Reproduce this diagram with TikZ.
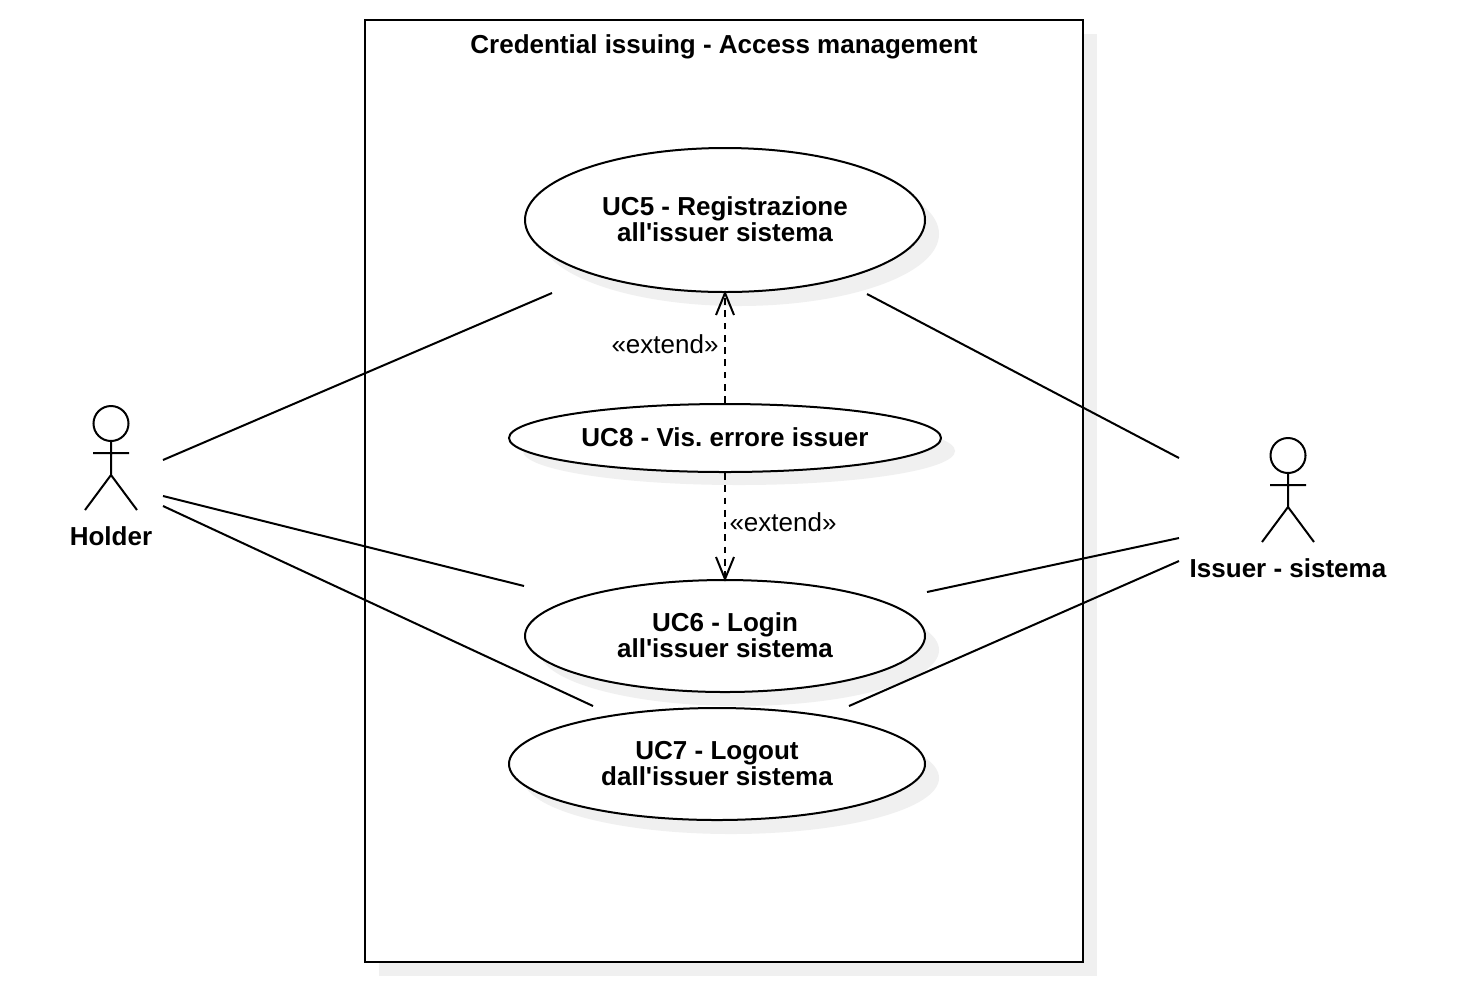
\documentclass[tikz,border=0pt]{standalone}
\usepackage{fontspec}
\setmainfont[Ligatures=TeXOff]{Liberation Sans}
\frenchspacing
\tikzset{
  x=0.75pt,y=-0.75pt,
  ln/.style={draw=black,line width=1.5pt},
  lbl/.style={font=\fontsize{19.5pt}{19.5pt}\selectfont\bfseries,align=center,inner sep=0pt,text=black},
  ext/.style={font=\fontsize{19.5pt}{19.5pt}\selectfont,inner sep=0pt,text=black},
  uc/.style={ellipse,ln,fill=white,inner sep=0pt},
  shad/.style={fill=shadowgray},
  assoc/.style={draw=black,line width=1.5pt},
  dep/.style={draw=black,line width=1.5pt,dash pattern=on 5.1pt off 4.1pt},
  opentip/.style={draw=black,line width=1.5pt,line join=miter}
}
\definecolor{shadowgray}{HTML}{F0F0F0}
\usetikzlibrary{shapes.geometric}
\begin{document}
\begin{tikzpicture}
\useasboundingbox (0,0) rectangle (1483,1001);
% shadows
\fill[shadowgray] (379,34) rectangle (1097,976);
\fill[white] (365,20) rectangle (1083,962);
\draw[ln] (365,20) rectangle (1083,962);
\node[lbl] (title) at (724,47) {Credential issuing - Access management};
\path[shad] (739,234) ellipse [x radius=200,y radius=72];
\path[shad] (739,451) ellipse [x radius=216,y radius=34];
\path[shad] (739,650) ellipse [x radius=200,y radius=56];
\path[shad] (731,778) ellipse [x radius=208,y radius=56];
% use cases
\node[uc,minimum width=300pt,minimum height=108pt] (uc5) at (725,220) {};
\node[uc,minimum width=324pt,minimum height=51pt] (uc8) at (725,438) {};
\node[uc,minimum width=300pt,minimum height=84pt] (uc6) at (725,636) {};
\node[uc,minimum width=312pt,minimum height=84pt] (uc7) at (717,764) {};
\node[lbl] (t5a) at (725,219) {UC5 - Registrazione\\all'issuer sistema};
\node[lbl] (t8a) at (725,437) {UC8 - Vis. errore issuer};
\node[lbl] (t6a) at (725,635) {UC6 - Login\\all'issuer sistema};
\node[lbl] (t7a) at (717,764) {UC7 - Logout\\dall'issuer sistema};
% actors
\draw[ln] (111,423.5) circle [radius=17.5];
\draw[ln] (111,441) -- (111,475) (93,453) -- (129,453) (85,510) -- (111,475) -- (137,510);
\node[lbl] (holder) at (111,536) {Holder};
\draw[ln] (1288,455.5) circle [radius=17.5];
\draw[ln] (1288,473) -- (1288,507) (1270,485) -- (1306,485) (1262,542) -- (1288,507) -- (1314,542);
\node[lbl] (issuer) at (1288,568) {Issuer - sistema};
% endpoints
\coordinate (a1) at (163,460); \coordinate (a2) at (552,293);
\coordinate (b1) at (163,496); \coordinate (b2) at (524,586);
\coordinate (c1) at (163,506); \coordinate (c2) at (593,706);
\coordinate (d1) at (1179,458); \coordinate (d2) at (867,294);
\coordinate (e1) at (1179,538); \coordinate (e2) at (927,592);
\coordinate (f1) at (1179,561); \coordinate (f2) at (849,706);
\draw[assoc] (a1) -- (a2); \draw[assoc] (b1) -- (b2); \draw[assoc] (c1) -- (c2);
\draw[assoc] (d1) -- (d2); \draw[assoc] (e1) -- (e2); \draw[assoc] (f1) -- (f2);
% dependencies
\coordinate (t5) at (725,293); \coordinate (t6) at (725,579);
\draw[dep] (uc8.north) -- (t5);
\draw[opentip] (716,315) -- (t5) -- (734,315);
\draw[dep] (uc8.south) -- (t6);
\draw[opentip] (716,557) -- (t6) -- (734,557);
\node[ext] (e5) at (665,344) {«extend»};
\node[ext] (e6) at (783,522) {«extend»};
\end{tikzpicture}
\end{document}
